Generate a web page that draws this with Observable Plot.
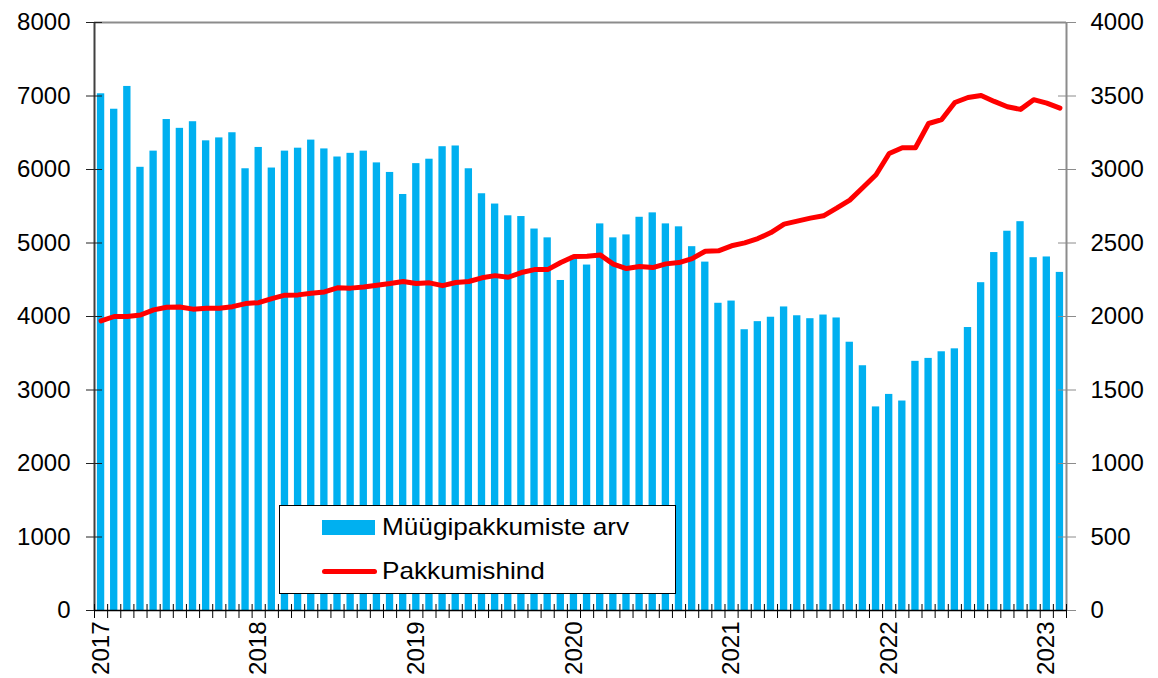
<!DOCTYPE html>
<html>
<head>
<meta charset="utf-8">
<script src="https://cdn.jsdelivr.net/npm/d3@7"></script>
<script src="https://cdn.jsdelivr.net/npm/@observablehq/plot@0.6"></script>
<style>
  body { margin: 0; background: #fff; font-family: "Liberation Sans", Arial, sans-serif; }
  #wrap { position: relative; width: 1158px; height: 678px; overflow: hidden; }
  #legend { position: absolute; left: 279px; top: 505px; width: 397px; height: 89px;
            border: 1.5px solid #000; background: #fff; box-sizing: border-box; }
  #legend .sw { position: absolute; left: 42px; top: 13.5px; width: 53px; height: 15px; background: #00B0F0; }
  #legend .ln { position: absolute; left: 42px; top: 62.7px; width: 55px; height: 5px; background: #FF0000; border-radius: 2.5px; }
  #legend .tx { position: absolute; left: 101.5px; font-size: 24px; line-height: 24px; color: #000; white-space: nowrap;
                transform: scaleX(1.09); transform-origin: 0 50%; }
</style>
</head>
<body>
<div id="wrap">
  <div id="chart"></div>
  <div id="legend">
    <div class="sw"></div>
    <div class="tx" style="top:9px" id="l1"></div>
    <div class="ln"></div>
    <div class="tx" style="top:53.2px" id="l2"></div>
  </div>
</div>
<script>
// Series names
const seriesCount = "Müügipakkumiste arv";
const seriesPrice = "Pakkumishind";

// Monthly categories: Jan 2017 – Feb 2023
const months = d3.utcMonths(new Date(Date.UTC(2017, 0, 1)), new Date(Date.UTC(2023, 2, 1)));

// Number of sale offers (left axis)
const counts = [
  7030, 6820, 7130, 6030, 6250, 6680, 6560, 6650, 6390, 6430, 6500, 6010,
  6300, 6020, 6250, 6290, 6400, 6280, 6170, 6220, 6250, 6090, 5960, 5660,
  6080, 6140, 6310, 6320, 6010, 5670, 5530, 5370, 5360, 5190, 5070, 4490,
  4820, 4700, 5260, 5070, 5110, 5350, 5410, 5260, 5220, 4950, 4740, 4180,
  4210, 3820, 3930, 3990, 4130, 4010, 3970, 4020, 3980, 3650, 3330, 2770,
  2940, 2850, 3390, 3430, 3520, 3560, 3850, 4460, 4870, 5160, 5290, 4800,
  4810, 4600
];

// Offer price (right axis)
const prices = [
  1970, 2000, 2000, 2010, 2045, 2063, 2065, 2050, 2056, 2056, 2067, 2088,
  2094, 2122, 2145, 2147, 2158, 2167, 2195, 2193, 2201, 2213, 2224, 2238,
  2224, 2229, 2210, 2231, 2238, 2263, 2278, 2267, 2299, 2319, 2319, 2367,
  2408, 2410, 2419, 2356, 2326, 2340, 2333, 2358, 2367, 2394, 2444, 2447,
  2481, 2501, 2530, 2571, 2628, 2649, 2669, 2685, 2737, 2792, 2878, 2964,
  3109, 3148, 3148, 3313, 3340, 3456, 3490, 3504, 3463, 3427, 3409, 3475,
  3452, 3418
];

// Axis ticks
const leftTicks = [0, 1000, 2000, 3000, 4000, 5000, 6000, 7000, 8000];
const rightRatio = 2; // right axis = left axis / 2

const rows = months.map((m, i) => ({
  month: m, i: i, j: i + 1, mid: i + 0.5, count: counts[i], price: prices[i]
}));
const n = rows.length;

const font = '"Liberation Sans", Arial, sans-serif';

const chart = Plot.plot({
  width: 1158,
  height: 678,
  marginTop: 22,
  marginRight: 92,
  marginBottom: 68,
  marginLeft: 94,
  style: { fontFamily: font, fontSize: "24px", color: "#000", background: "#fff", overflow: "visible" },
  x: { domain: [0, n] },
  y: { domain: [0, 8000] },
  marks: [
    Plot.rectY(rows, { x1: "i", x2: "j", y1: 0, y2: "count", fill: "#00B0F0", insetLeft: 2.9, insetRight: 2.9 }),
    Plot.ruleY([8000], { stroke: "#8c8c8c", strokeWidth: 2 }),
    Plot.ruleX([n], { stroke: "#8c8c8c", strokeWidth: 2 }),
    Plot.ruleX([0], { stroke: "#404040", strokeWidth: 2 }),
    Plot.axisY({ anchor: "left", ticks: leftTicks, tickSize: 16, dx: 8, tickPadding: 16,
                 tickFormat: d => String(d), stroke: "#222", fill: "#000", label: null, fontSize: 24 }),
    Plot.axisY({ anchor: "right", ticks: leftTicks, tickSize: 18, dx: -9, tickPadding: 15,
                 tickFormat: d => String(d / rightRatio), stroke: "#8c8c8c", fill: "#000", label: null, fontSize: 24 }),
    Plot.axisX({ anchor: "bottom", ticks: d3.range(0, n + 1), tickSize: 14, dy: -6,
                 tickFormat: () => "", stroke: "#000", label: null }),
    Plot.ruleY([0], { stroke: "#000", strokeWidth: 1.5 }),
    Plot.line(rows, { x: "mid", y: d => d.price * rightRatio, stroke: "#FF0000", strokeWidth: 5,
                      strokeLinejoin: "round", strokeLinecap: "round" }),
    Plot.text(rows.filter(d => d.month.getUTCMonth() === 0), {
      x: "mid", y: 0, text: d => String(d.month.getUTCFullYear()),
      rotate: -90, textAnchor: "end", lineAnchor: "middle", dy: 11, fontSize: 24, fill: "#000"
    })
  ]
});

document.getElementById("chart").appendChild(chart);
document.getElementById("l1").textContent = seriesCount;
document.getElementById("l2").textContent = seriesPrice;
</script>
</body>
</html>
